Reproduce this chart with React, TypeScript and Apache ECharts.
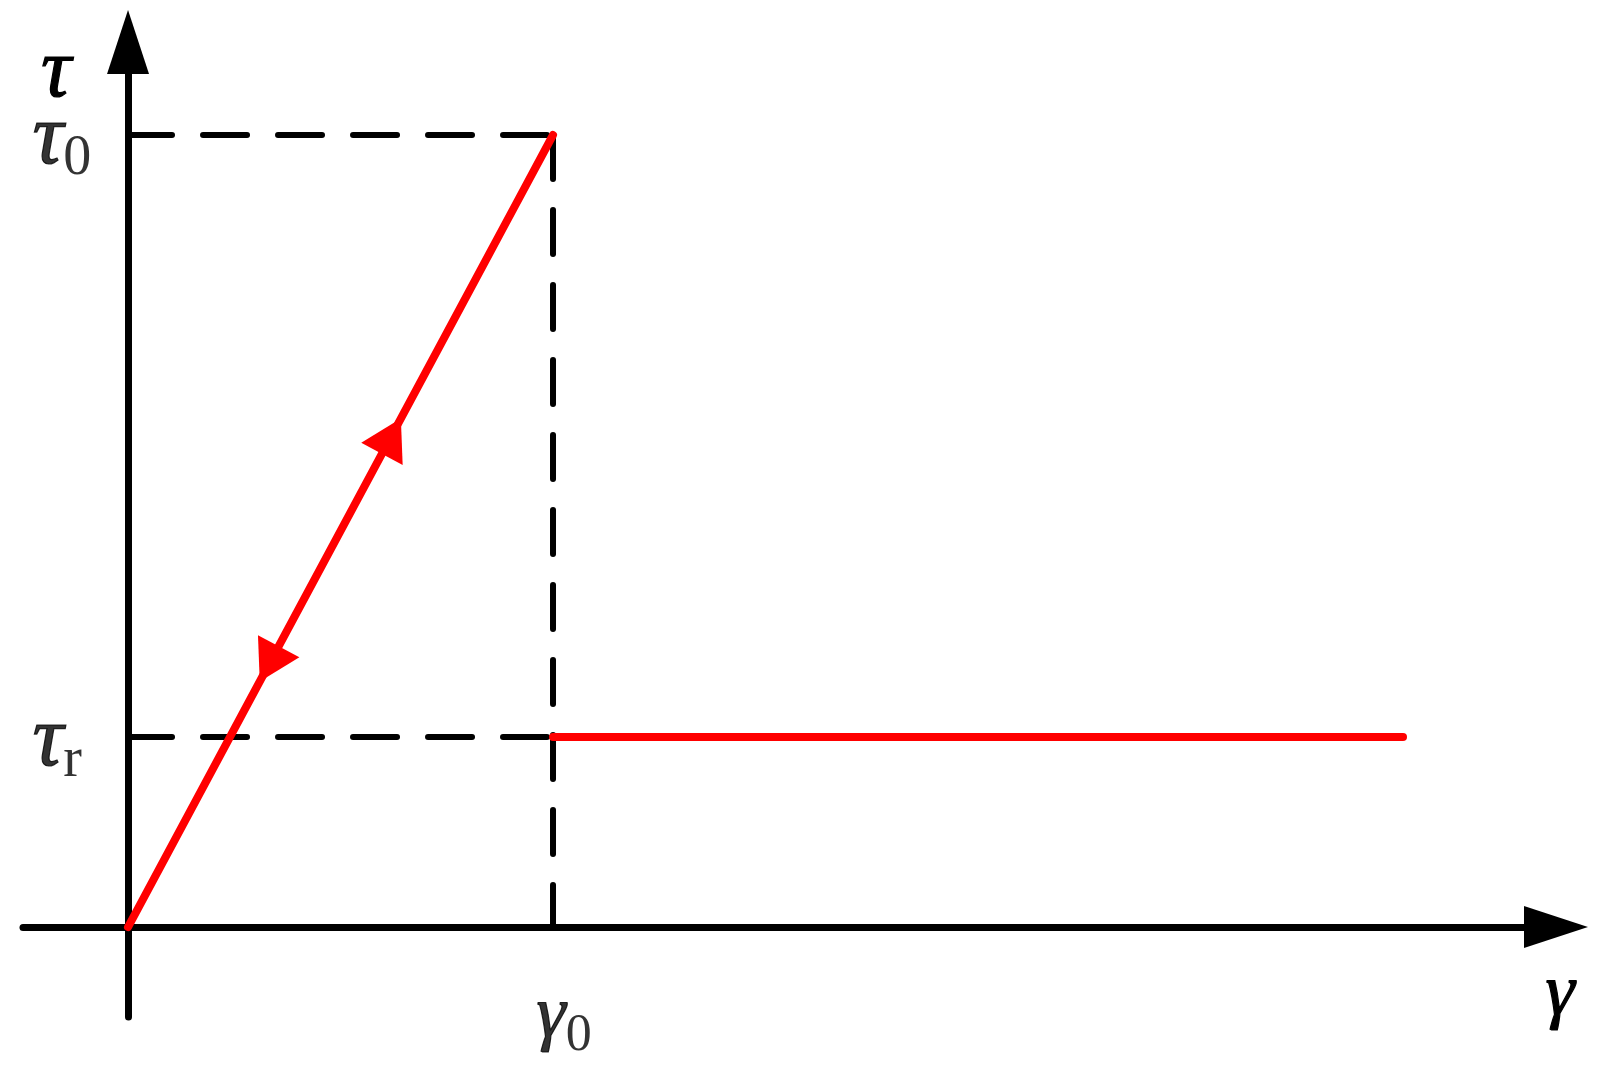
import React, { useEffect, useRef } from "react";
import * as echarts from "echarts";

// ---- data (in units of γ0 and τ0) ----
const GAMMA_0 = 1;
const TAU_0 = 1;
const TAU_R = 0.24;
const GAMMA_END = 3;

const loadingPath = [[0, 0], [GAMMA_0, TAU_0]];
const residualPath = [[GAMMA_0, TAU_R], [GAMMA_END, TAU_R]];
const guideTau0 = [[0, TAU_0], [GAMMA_0, TAU_0]];
const guideTauR = [[0, TAU_R], [GAMMA_0, TAU_R]];
const guideGamma0 = [[GAMMA_0, TAU_0], [GAMMA_0, 0]];
// arrowheads on the loading path: [γ tip, τ tip, dir γ, dir τ]
const arrowHeads = [
  [0.642, 0.642, 1, 1],
  [0.31, 0.31, -1, -1],
];

// tick labels: value, subscript
const yTickValues = [TAU_0, TAU_R];
const yTickSubs = ["0", "r"];
const xTickValues = [GAMMA_0];
const xTickSubs = ["0"];

const X_MIN = -0.2471;
const X_MAX = 3.36;
const Y_MIN = -0.1136;
const Y_MAX = 1.1174;

const FONT = "Liberation Serif";
const RED = "#ff0000";
const INK = "#000000";

const greek = { fontFamily: FONT, fontStyle: "italic", color: INK, textBorderColor: INK, textBorderWidth: 1.2 };

const tauRich = {
  g: { ...greek, fontSize: 86 },
  s: { fontFamily: FONT, fontSize: 56, color: INK, padding: [42, 0, 0, 0] },
};
const gammaRich = {
  g: { ...greek, fontSize: 74 },
  s: { fontFamily: FONT, fontSize: 52, color: INK, padding: [43, 0, 0, 0] },
};

export default function App() {
  const ref = useRef<HTMLDivElement>(null);
  useEffect(() => {
    if (!ref.current) return;
    const chart = echarts.init(ref.current, undefined, { renderer: "svg" });
    const dashStyle = { color: INK, width: 6, type: [44, 31], cap: "round" };
    const axisLineStyle = { color: INK, width: 7, cap: "round" };
    chart.setOption({
      animation: false,
      backgroundColor: "#fff",
      grid: {
        left: 23,
        right: 48,
        top: 42,
        bottom: 55,
        containLabel: false,
        outerBoundsMode: "none",
      },
      xAxis: {
        type: "value",
        min: X_MIN,
        max: X_MAX,
        name: "γ",
        nameLocation: "end",
        nameGap: 4,
        nameTextStyle: {
          ...greek,
          fontSize: 74,
          align: "center",
          verticalAlign: "top",
          padding: [25, 0, 0, 0],
        },
        axisLine: {
          onZero: true,
          symbol: ["none", "triangle"],
          symbolSize: [42, 64],
          lineStyle: axisLineStyle,
        },
        axisTick: { show: false },
        splitLine: { show: false },
        axisLabel: { show: false },
      },
      yAxis: {
        type: "value",
        min: Y_MIN,
        max: Y_MAX,
        name: "τ",
        nameLocation: "end",
        nameGap: 17,
        nameTextStyle: {
          ...greek,
          fontSize: 84,
          align: "right",
          verticalAlign: "top",
          padding: [0, 57, 0, 0],
        },
        axisLine: {
          onZero: true,
          symbol: ["none", "triangle"],
          symbolSize: [42, 64],
          lineStyle: axisLineStyle,
        },
        axisTick: { show: false },
        splitLine: { show: false },
        axisLabel: { show: false },
      },
      series: [
        { type: "line", data: guideTau0, symbol: "none", lineStyle: dashStyle, z: 2 },
        { type: "line", data: guideTauR, symbol: "none", lineStyle: dashStyle, z: 2 },
        { type: "line", data: guideGamma0, symbol: "none", lineStyle: dashStyle, z: 2 },
        {
          type: "line",
          data: loadingPath,
          symbol: "none",
          lineStyle: { color: RED, width: 8, cap: "round" },
          z: 3,
        },
        {
          type: "line",
          data: residualPath,
          symbol: "none",
          lineStyle: { color: RED, width: 8, cap: "round" },
          z: 3,
        },
        {
          type: "custom",
          data: arrowHeads,
          clip: false,
          z: 4,
          encode: { x: 0, y: 1 },
          renderItem: (params: any, api: any) => {
            const g = api.value(0);
            const t = api.value(1);
            const dg = api.value(2);
            const dt = api.value(3);
            const tip = api.coord([g, t]);
            const back = api.coord([g - dg * 0.1, t - dt * 0.1]);
            let ux = tip[0] - back[0];
            let uy = tip[1] - back[1];
            const len = Math.hypot(ux, uy) || 1;
            ux /= len;
            uy /= len;
            const nx = -uy;
            const ny = ux;
            const L = 40;
            const W = 47;
            const bx = tip[0] - ux * L;
            const by = tip[1] - uy * L;
            return {
              type: "polygon",
              shape: {
                points: [
                  tip,
                  [bx + (nx * W) / 2, by + (ny * W) / 2],
                  [bx - (nx * W) / 2, by - (ny * W) / 2],
                ],
              },
              style: { fill: RED },
            };
          },
        },
        // τ tick labels, anchored at (0, τ) on the τ axis
        {
          type: "scatter",
          data: yTickValues.map((v) => [0, v]),
          symbolSize: 1,
          itemStyle: { color: "rgba(0,0,0,0)" },
          silent: true,
          z: 5,
          label: {
            show: true,
            color: INK,
            position: [-95, 0],
            align: "left",
            verticalAlign: "middle",
            formatter: (p: any) => `{g|τ}{s|${yTickSubs[p.dataIndex]}}`,
            rich: tauRich,
          },
        },
        // γ tick labels, anchored at (γ, 0) on the γ axis
        {
          type: "scatter",
          data: xTickValues.map((v) => [v, 0]),
          symbolSize: 1,
          itemStyle: { color: "rgba(0,0,0,0)" },
          silent: true,
          z: 5,
          label: {
            show: true,
            color: INK,
            position: [-16, 84],
            align: "left",
            verticalAlign: "middle",
            formatter: (p: any) => `{g|γ}{s|${xTickSubs[p.dataIndex]}}`,
            rich: gammaRich,
          },
        },
      ],
    });
    return () => chart.dispose();
  }, []);
  return (
    <div
      ref={ref}
      style={{ position: "fixed", left: 0, top: 0, width: 1604, height: 1072, background: "#fff" }}
    />
  );
}
